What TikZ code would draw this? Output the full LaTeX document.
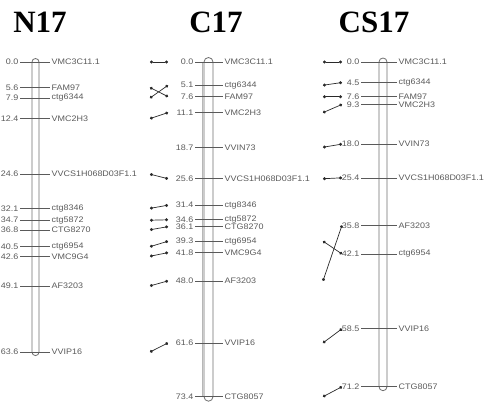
\documentclass[tikz,border=0pt]{standalone}
\usepackage{fontspec}
\setmainfont{Liberation Serif}
\setsansfont{Liberation Sans}
\newfontfamily\mkfont{Liberation Sans}[FakeStretch=1.12]
\usetikzlibrary{arrows.meta,positioning}
\definecolor{cInk}{HTML}{5A5A5A}
\definecolor{cChr}{HTML}{6E6E6E}
\definecolor{cLink}{HTML}{2A2A2A}
\tikzset{
  ttl/.style={font=\bfseries\fontsize{31}{31}\selectfont, inner sep=0pt, anchor=base},
  mk/.style={font=\mkfont\fontsize{8}{9}\selectfont, text=cInk, inner sep=1.5pt},
  num/.style={mk, anchor=east},
  lbl/.style={mk, anchor=west},
  tck/.style={draw=cInk, line width=0.6pt},
  chr/.style={draw=cChr, line width=0.8pt, rounded corners=#1},
  link/.style={draw=cLink, line width=0.7pt, {Circle[length=3pt]}-{Circle[length=3pt]}},
}
\begin{document}
\begin{tikzpicture}[x=1pt,y=-1pt]
\useasboundingbox (0,0) rectangle (492,406);
% titles
\node[ttl] (tN) at (40,33) {N17};
\node[ttl] (tC) at (216,33) {C17};
\node[ttl] (tS) at (374,33) {CS17};
% N17
\draw[chr=3.5pt] (32,58.5) rectangle (39,355.6);
\foreach \v/\m [count=\i] in {0.0/VMC3C11.1, 5.6/FAM97, 7.9/ctg6344, 12.4/VMC2H3,
  24.6/VVCS1H068D03F1.1, 32.1/ctg8346, 34.7/ctg5872, 36.8/CTG8270, 40.5/ctg6954,
  42.6/VMC9G4, 49.1/AF3203, 63.6/VVIP16} {
  \node[num] (nN\i) at (20,{62+4.56*\v}) {\v};
  \node[lbl] (mN\i) at (50,{62+4.56*\v}) {\m};
  \draw[tck] (nN\i.east) -- (mN\i.west);
}
% C17
\draw[chr=4.5pt] (204,57.5) rectangle (213,401.2);
\draw[cChr!50, line width=0.8pt] (202.5,62) -- (202.5,397);
\foreach \v/\m [count=\i] in {0.0/VMC3C11.1, 5.1/ctg6344, 7.6/FAM97, 11.1/VMC2H3,
  18.7/VVIN73, 25.6/VVCS1H068D03F1.1, 31.4/ctg8346, 34.6/ctg5872, 36.1/CTG8270,
  39.3/ctg6954, 41.8/VMC9G4, 48.0/AF3203, 61.6/VVIP16, 73.4/CTG8057} {
  \node[num] (nC\i) at (195,{62+4.56*\v}) {\v};
  \node[lbl] (mC\i) at (223,{62+4.56*\v}) {\m};
  \draw[tck] (nC\i.east) -- (mC\i.west);
}
% CS17
\draw[chr=4pt] (379,58) rectangle (387,390.7);
\foreach \v/\m [count=\i] in {0.0/VMC3C11.1, 4.5/ctg6344, 7.6/FAM97, 9.3/VMC2H3,
  18.0/VVIN73, 25.4/VVCS1H068D03F1.1, 35.8/AF3203, 42.1/ctg6954, 58.5/VVIP16,
  71.2/CTG8057} {
  \node[num] (nS\i) at (361,{62+4.56*\v}) {\v};
  \node[lbl] (mS\i) at (397,{62+4.56*\v}) {\m};
  \draw[tck] (nS\i.east) -- (mS\i.west);
}
% links between maps
\coordinate (xa) at (150,0);
\coordinate (xb) at (168,0);
\coordinate (xc) at (323,0);
\coordinate (xd) at (342,0);
\foreach \a/\b in {1/1,2/3,3/2,4/4,5/6,6/7,7/8,8/9,9/10,10/11,11/12,12/13}
  \draw[link] (xa |- nN\a) -- (xb |- nC\b);
\foreach \a/\b in {1/1,2/2,3/3,4/4,5/5,6/6,12/7,10/8,13/9,14/10}
  \draw[link] (xc |- nC\a) -- (xd |- nS\b);
\end{tikzpicture}
\end{document}
